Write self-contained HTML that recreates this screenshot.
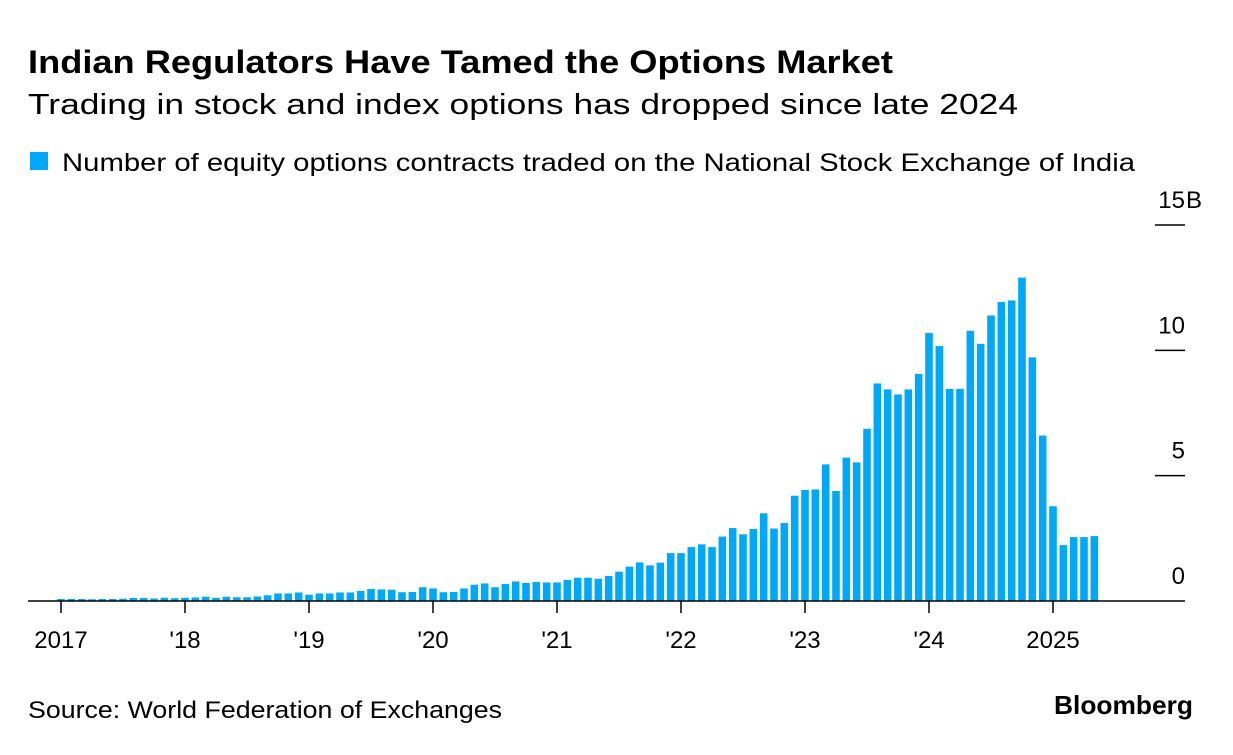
<!DOCTYPE html>
<html><head><meta charset="utf-8"><style>
body{margin:0;background:#fff;font-family:"Liberation Sans",sans-serif;}
svg text{font-family:"Liberation Sans",sans-serif;}
</style></head><body>
<svg id="c" width="1233" height="750">
<text x="28" y="73" font-size="32" font-weight="bold" fill="#000" textLength="865" lengthAdjust="spacingAndGlyphs">Indian Regulators Have Tamed the Options Market</text>
<text x="28" y="114" font-size="29" fill="#000" textLength="990" lengthAdjust="spacingAndGlyphs">Trading in stock and index options has dropped since late 2024</text>
<rect x="30" y="152" width="18" height="18" fill="#00a8f7"/>
<text x="62" y="171" font-size="25" fill="#000" textLength="1073" lengthAdjust="spacingAndGlyphs">Number of equity options contracts traded on the National Stock Exchange of India</text>
<text x="28" y="718" font-size="24" fill="#000" textLength="474" lengthAdjust="spacingAndGlyphs">Source: World Federation of Exchanges</text>
<text x="1193" y="714" font-size="26" font-weight="bold" text-anchor="end" fill="#000" textLength="139" lengthAdjust="spacingAndGlyphs">Bloomberg</text>
<g id="bars"></g><g id="axes"></g>
</svg>
<script>
const values = [
0.08,0.08,0.08,0.07,0.08,0.08,0.09,0.12,0.12,0.10,0.13,0.11,
0.13,0.14,0.17,0.13,0.17,0.15,0.15,0.18,0.23,0.30,0.30,0.34,
0.25,0.30,0.30,0.34,0.34,0.40,0.48,0.46,0.45,0.35,0.36,0.55,
0.50,0.35,0.36,0.50,0.65,0.70,0.55,0.68,0.78,0.72,0.76,0.74,
0.74,0.84,0.93,0.93,0.89,1.00,1.17,1.37,1.54,1.42,1.53,1.91,
1.91,2.15,2.26,2.15,2.57,2.91,2.66,2.87,3.50,2.89,3.11,4.20,
4.43,4.45,5.45,4.39,5.72,5.53,6.87,8.68,8.44,8.24,8.44,9.06,
10.69,10.17,8.46,8.46,10.78,10.26,11.39,11.93,11.99,12.90,9.72,6.60,
3.78,2.23,2.55,2.55,2.59];
const yTicks = [0,5,10,15];
const yTickLabels = ["0","5","10","15"];
const xYears = [2017,2018,2019,2020,2021,2022,2023,2024,2025];
const xLabels = ["2017","'18","'19","'20","'21","'22","'23","'24","2025"];
const NS="http://www.w3.org/2000/svg";
const x0=61, monthW=124/12, base=601, pxPerB=(601-225)/15;
const xs=i=>x0+i*monthW;
const ys=v=>base-v*pxPerB;
const bars=document.getElementById('bars'), axes=document.getElementById('axes');
values.forEach((v,i)=>{
 const r=document.createElementNS(NS,'rect');
 r.setAttribute('x',xs(i)-3.8);r.setAttribute('width',7.6);
 r.setAttribute('y',ys(v));r.setAttribute('height',base-ys(v));
 r.setAttribute('fill','#00a8f7');
 
 
 bars.appendChild(r);
});
yTicks.forEach((t,i)=>{
 const y=ys(t);
 if(t>0){const l=document.createElementNS(NS,'line');
 l.setAttribute('x1',1155);l.setAttribute('x2',1185);l.setAttribute('y1',y);l.setAttribute('y2',y);
 l.setAttribute('stroke','#000');l.setAttribute('stroke-width',1.5);
 
 
 axes.appendChild(l);}
 const tx=document.createElementNS(NS,'text');
 tx.setAttribute('x',1185);tx.setAttribute('y',y-17);tx.setAttribute('text-anchor','end');
 tx.setAttribute('font-size','24');tx.textContent=yTickLabels[i];
 
 
 axes.appendChild(tx);
 if(i===yTicks.length-1){
  const u=document.createElementNS(NS,'text');
  u.setAttribute('x',1186);u.setAttribute('y',y-17);u.setAttribute('font-size','24');u.textContent='B';
  
  
  axes.appendChild(u);
 }
});
const ax=document.createElementNS(NS,'line');
ax.setAttribute('x1',28);ax.setAttribute('x2',1185);ax.setAttribute('y1',base);ax.setAttribute('y2',base);
ax.setAttribute('stroke','#000');ax.setAttribute('stroke-width',1.5);


axes.appendChild(ax);
xYears.forEach((yr,i)=>{
 const x=xs((yr-2017)*12);
 const l=document.createElementNS(NS,'line');
 l.setAttribute('x1',x);l.setAttribute('x2',x);l.setAttribute('y1',base);l.setAttribute('y2',base+12);
 l.setAttribute('stroke','#000');l.setAttribute('stroke-width',1.5);
 
 
 axes.appendChild(l);
 const tx=document.createElementNS(NS,'text');
 tx.setAttribute('x',x);tx.setAttribute('y',648);tx.setAttribute('text-anchor','middle');
 tx.setAttribute('font-size','24');tx.textContent=xLabels[i];
 
 
 axes.appendChild(tx);
});
</script>
</body></html>
